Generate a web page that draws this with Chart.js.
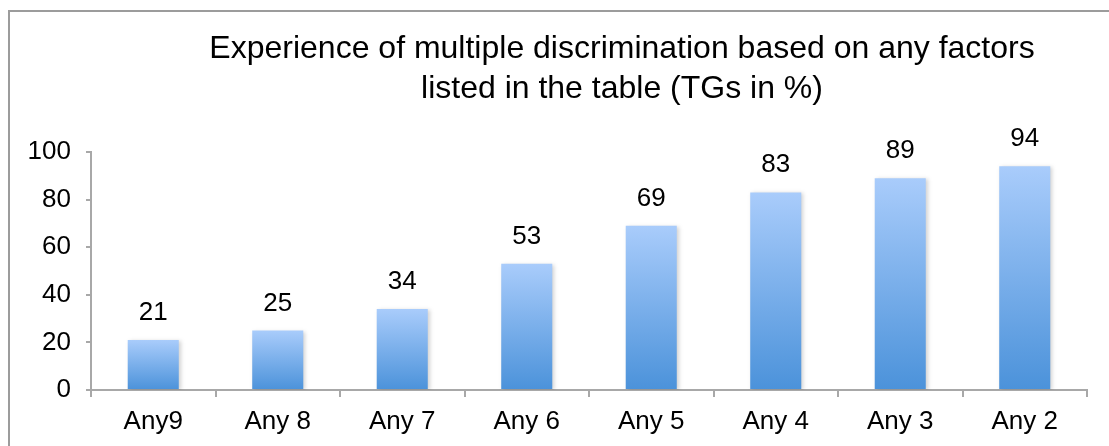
<!DOCTYPE html>
<html>
<head>
<meta charset="utf-8">
<script src="https://cdn.jsdelivr.net/npm/chart.js@4"></script>
<style>
  html, body { margin: 0; padding: 0; background: #fff; overflow: hidden; }
  .wrap { position: relative; width: 1109px; height: 446px; }
  .frame { position: absolute; left: 8px; top: 10px; width: 1200px; height: 500px;
           border-left: 2px solid #9c9c9c; border-top: 2px solid #9c9c9c; }
  canvas { position: absolute; left: 0; top: 0; }
</style>
</head>
<body>
<div class="wrap">
  <div class="frame"></div>
  <canvas id="chart" width="1109" height="446"></canvas>
</div>
<script>
const categories = ['Any9', 'Any 8', 'Any 7', 'Any 6', 'Any 5', 'Any 4', 'Any 3', 'Any 2'];
const values = [21, 25, 34, 53, 69, 83, 89, 94];
const yTicks = [0, 20, 40, 60, 80, 100];
const titleLines = ['Experience of multiple discrimination based on any factors', 'listed in the table (TGs in %)'];

const FONT = 'Liberation Sans, Arial, Helvetica, sans-serif';

Chart.defaults.font.family = FONT;
Chart.defaults.color = '#000';

// gradient per bar, light on top and darker at the base
function barGradient(ctx) {
  const chart = ctx.chart;
  if (!chart.chartArea || ctx.raw === undefined) return '#7aaee8';
  const y = chart.scales.y;
  const top = y.getPixelForValue(ctx.raw);
  const bottom = y.getPixelForValue(0);
  const g = chart.ctx.createLinearGradient(0, top, 0, bottom);
  g.addColorStop(0, '#a9ccfb');
  g.addColorStop(1, '#4b92da');
  return g;
}

const barShadow = {
  id: 'barShadow',
  beforeDatasetsDraw(chart) {
    const c = chart.ctx;
    c.save();
    c.shadowColor = 'rgba(0,0,0,0.18)';
    c.shadowBlur = 4;
    c.shadowOffsetX = 2;
    c.shadowOffsetY = 1;
  },
  afterDatasetsDraw(chart) {
    chart.ctx.restore();
  }
};

const valueLabels = {
  id: 'valueLabels',
  afterDatasetsDraw(chart) {
    const c = chart.ctx;
    const meta = chart.getDatasetMeta(0);
    c.save();
    c.font = '26px ' + FONT;
    c.fillStyle = '#000';
    c.textAlign = 'center';
    c.textBaseline = 'alphabetic';
    meta.data.forEach((bar, i) => {
      c.fillText(String(values[i]), bar.x, bar.y - 20);
    });
    c.restore();
  }
};

const chartTitle = {
  id: 'chartTitle',
  afterDraw(chart) {
    const c = chart.ctx;
    c.save();
    c.font = '32px ' + FONT;
    c.fillStyle = '#000';
    c.textAlign = 'center';
    c.textBaseline = 'alphabetic';
    titleLines.forEach((t, i) => c.fillText(t, 622, 58 + i * 40));
    c.restore();
  }
};

new Chart(document.getElementById('chart'), {
  type: 'bar',
  data: {
    labels: categories,
    datasets: [{
      data: values,
      backgroundColor: barGradient,
      borderWidth: 0,
      barPercentage: 0.41,
      categoryPercentage: 1
    }]
  },
  options: {
    responsive: false,
    animation: false,
    events: [],
    layout: { padding: { top: 152, right: 22, left: 0, bottom: 0 } },
    plugins: {
      legend: { display: false },
      title: { display: false },
      tooltip: { enabled: false }
    },
    scales: {
      x: {
        offset: true,
        afterFit(s) { s.height = 56; },
        grid: { offset: true, drawOnChartArea: false, color: '#a8a8a8', tickLength: 7, lineWidth: 2 },
        border: { color: '#a8a8a8', width: 2 },
        ticks: { font: { size: 26 }, color: '#000', padding: 9 }
      },
      y: {
        min: 0,
        max: 100,
        afterFit(s) { s.width = 91; },
        afterBuildTicks(s) { s.ticks = yTicks.map(v => ({ value: v })); },
        grid: { drawOnChartArea: false, color: '#a8a8a8', tickLength: 5, lineWidth: 2 },
        border: { color: '#a8a8a8', width: 2 },
        ticks: { font: { size: 26 }, color: '#000', padding: 15 }
      }
    }
  },
  plugins: [barShadow, valueLabels, chartTitle]
});
</script>
</body>
</html>
